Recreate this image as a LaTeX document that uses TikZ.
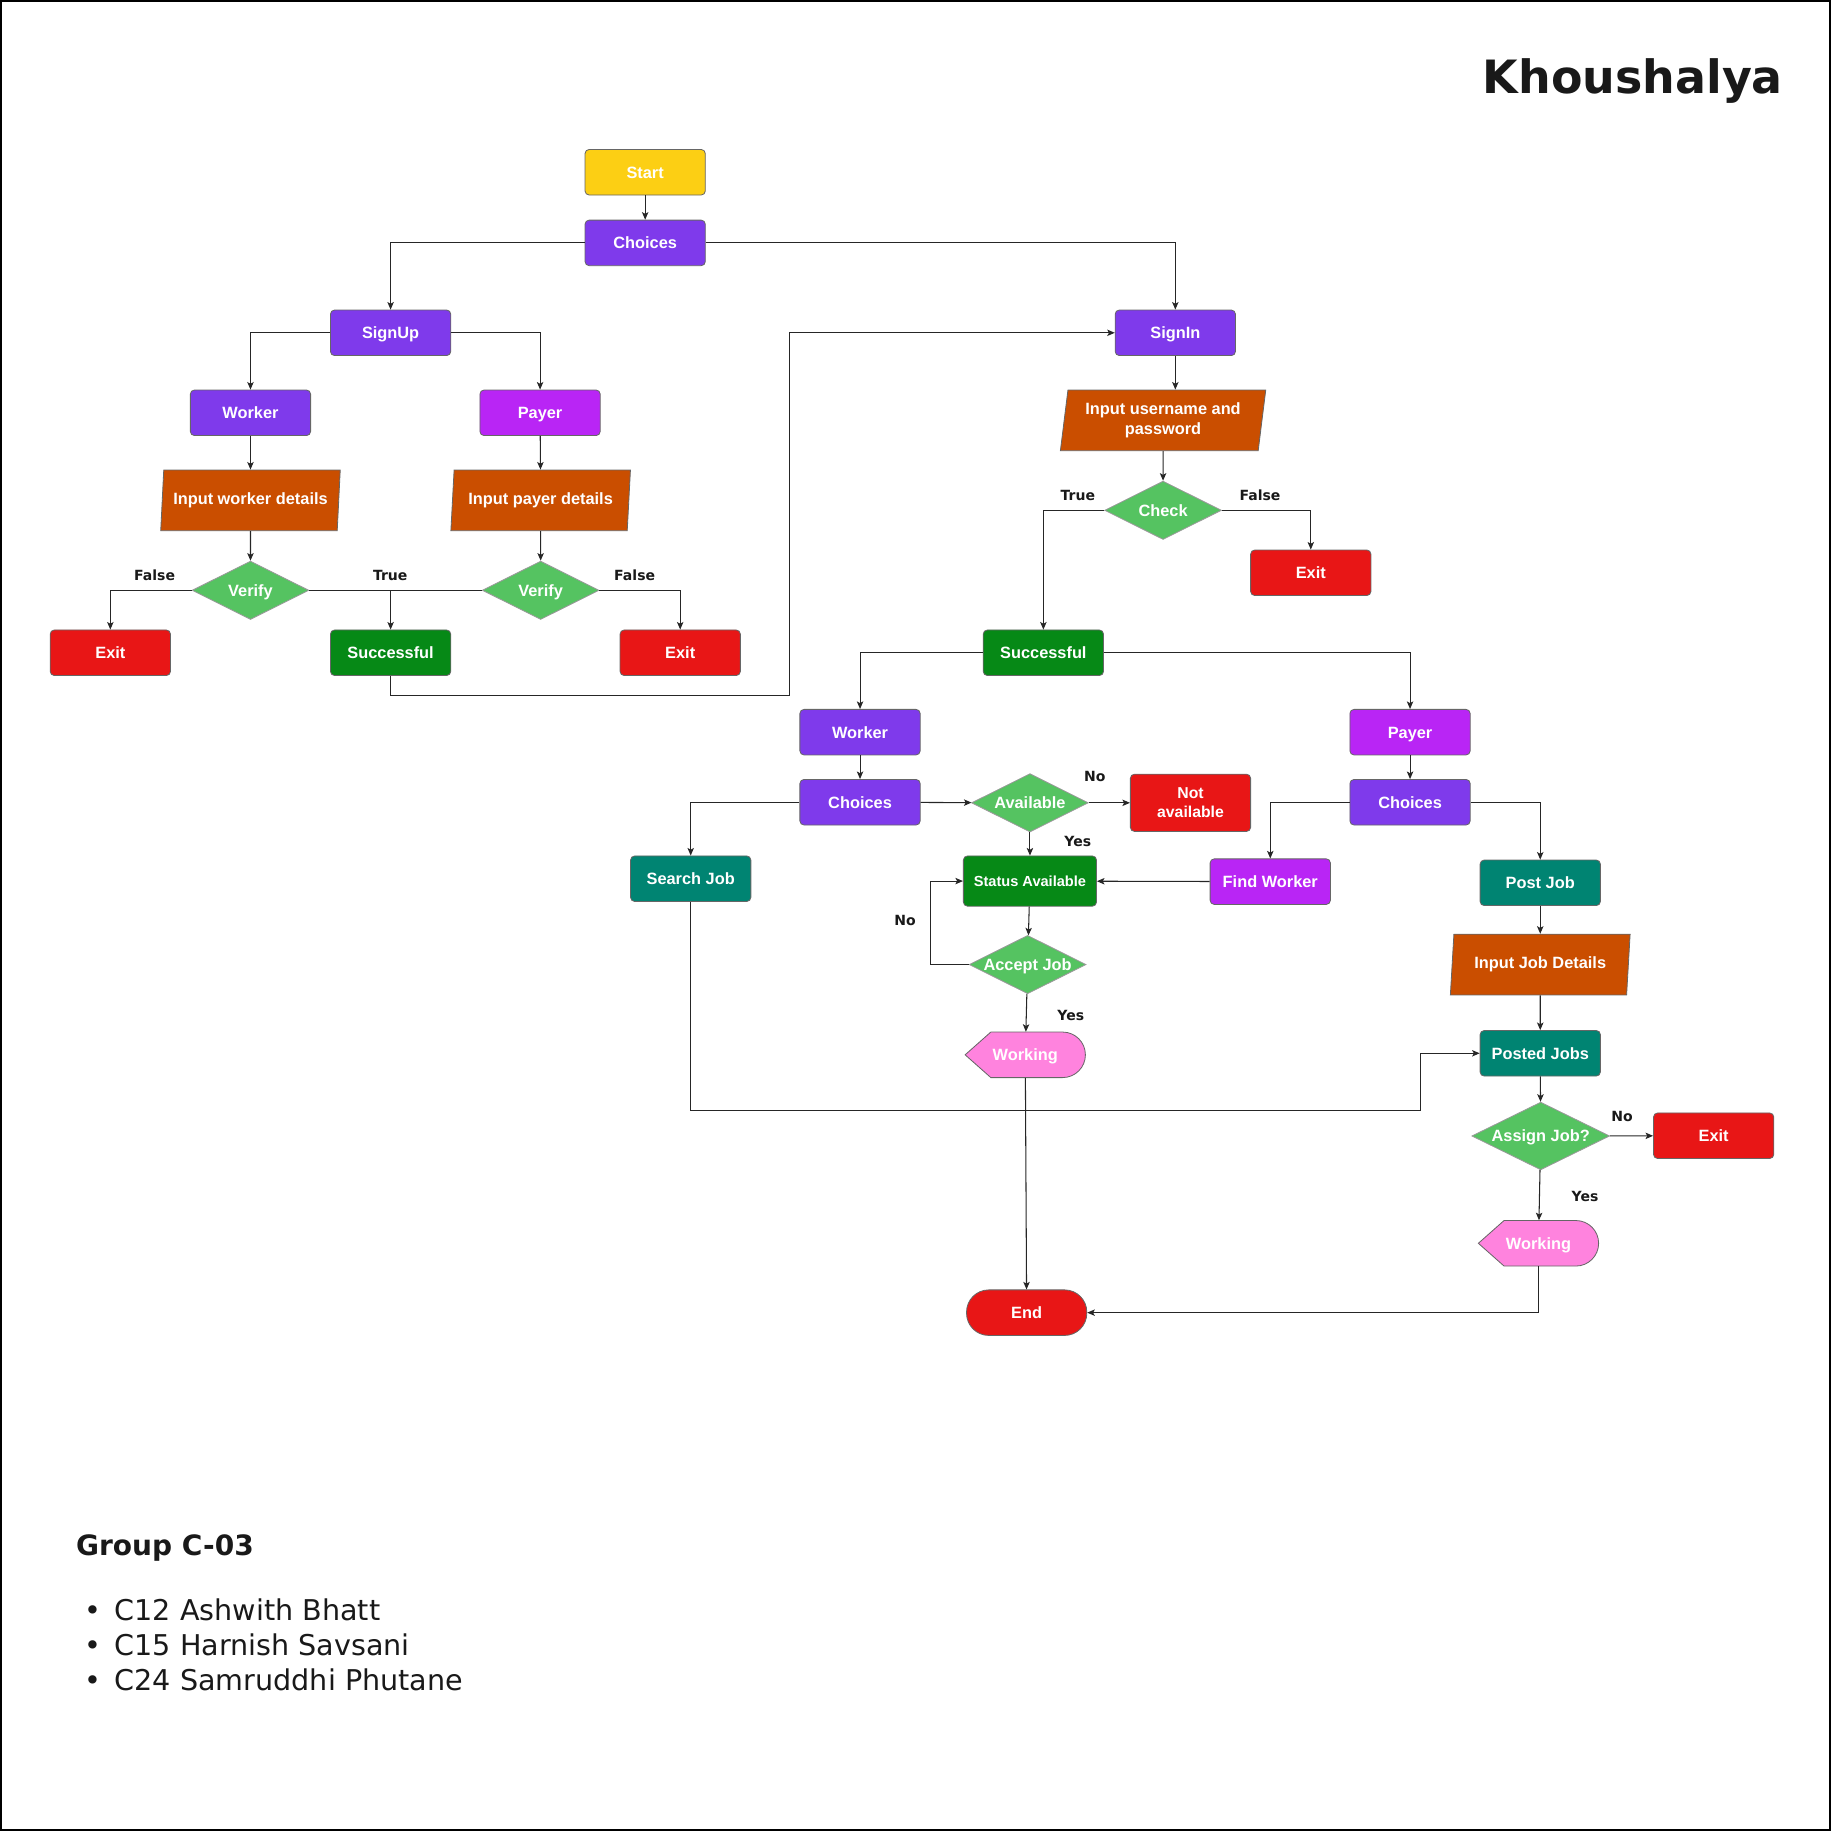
\documentclass[tikz,border=0pt]{standalone}
\usepackage{fontspec}
\setmainfont{Liberation Sans}
\newfontfamily\dejavu{DejaVu Sans}
\usetikzlibrary{shapes.geometric,arrows.meta,calc}

\definecolor{startyellow}{RGB}{252,207,20}
\definecolor{choiceviolet}{RGB}{127,58,235}
\definecolor{payerpurple}{RGB}{185,37,245}
\definecolor{inputorange}{RGB}{202,78,0}
\definecolor{checkgreen}{RGB}{85,195,97}
\definecolor{exitred}{RGB}{232,22,22}
\definecolor{okgreen}{RGB}{6,137,22}
\definecolor{jobteal}{RGB}{0,132,114}
\definecolor{workpink}{RGB}{255,131,222}

\newcommand\flowfont{\bfseries\fontsize{14}{17}\selectfont}
\newcommand\edgefont{\dejavu\bfseries\fontsize{12}{14}\selectfont}

\tikzset{
  box/.style={draw=black!60, line width=0.7pt, rounded corners=3.5pt,
    minimum width=103pt, minimum height=39pt, inner sep=0pt,
    text height=10pt, text depth=0pt, text=white, font=\flowfont},
  io/.style={trapezium, trapezium left angle=80, trapezium right angle=100,
    trapezium stretches=true, draw=black!60, line width=0.7pt,
    fill=inputorange, minimum width=154pt, minimum height=52pt,
    inner sep=0pt, text=white, font=\flowfont, align=center},
  decision/.style={diamond, aspect=2, draw=black!40, line width=0.7pt,
    fill=checkgreen, minimum width=100pt, minimum height=50pt,
    inner sep=0pt, text height=10pt, text depth=0pt,
    text=white, font=\flowfont},
  terminal/.style={box, rounded corners=19pt, fill=exitred},
  plain/.style={minimum width=103pt, minimum height=39pt, inner sep=0pt,
    text height=10pt, text depth=0pt, text=white, font=\flowfont},
  workfill/.style={fill=workpink, draw=black!60, line width=0.7pt},
  lbl/.style={font=\edgefont, text=black!90},
  note/.style={inner sep=0pt, text=black!90},
  link/.style={-{Stealth[length=6.5pt,width=5.5pt,inset=1.5pt]},
    draw=black!85, line width=0.9pt},
}

\begin{document}
\begin{tikzpicture}[x=1pt,y=-1pt]
  \useasboundingbox (0,0) rectangle (1568,1568);
  \draw[line width=1.5pt] (0.75,0.75) rectangle (1567.25,1567.25);

  \node[note, anchor=base east, font=\dejavu\bfseries\fontsize{39.3}{44}\selectfont]
    (title) at (1527,80) {Khoushalya};

  % sign up side
  \node[box, fill=startyellow] (start) at (552.5,147.5) {Start};
  \node[box, fill=choiceviolet] (choice) at (552.5,208) {Choices};
  \node[box, fill=choiceviolet] (signup) at (334.5,285) {SignUp};
  \node[box, fill=choiceviolet] (signin) at (1006.5,285) {SignIn};
  \node[box, fill=choiceviolet] (worker) at (214.5,353.5) {Worker};
  \node[box, fill=payerpurple] (payer) at (462.5,353.5) {Payer};
  \node[io] (inworker) at (214.5,428.5) {Input worker details};
  \node[io] (inpayer) at (463,428.5) {Input payer details};
  \node[decision] (verifyw) at (214.5,505.5) {Verify};
  \node[decision] (verifyp) at (463,505.5) {Verify};
  \node[box, fill=exitred] (exitw) at (94.5,559) {Exit};
  \node[box, fill=okgreen] (succ) at (334.5,559) {Successful};
  \node[box, fill=exitred] (exitp) at (582.5,559) {Exit};

  % sign in side
  \node[io, minimum width=176pt] (inlogin) at (996,360)
    {Input username and\\password};
  \node[decision] (check) at (996,437) {Check};
  \node[box, fill=exitred] (exitl) at (1122.5,490.5) {Exit};
  \node[box, fill=okgreen] (succl) at (893.5,559) {Successful};
  \node[box, fill=choiceviolet] (wrk) at (736.5,627) {Worker};
  \node[box, fill=payerpurple] (pyr) at (1207.5,627) {Payer};
  \node[box, fill=choiceviolet] (wchoice) at (736.5,687) {Choices};
  \node[box, fill=choiceviolet] (pchoice) at (1207.5,687) {Choices};
  \node[decision] (avail) at (882,687.5) {Available};
  \node[box, fill=exitred, minimum height=49pt, text height=, text depth=,
    align=center, font=\flowfont\fontsize{13.5}{16}\selectfont]
    (notavail) at (1019.5,687.5) {Not\\available};
  \node[box, fill=okgreen, minimum width=114pt, minimum height=43pt,
    text height=9pt, font=\flowfont\fontsize{12.5}{14}\selectfont]
    (status) at (882,754.5) {Status Available};
  \node[box, fill=payerpurple] (findw) at (1087.8,755) {Find Worker};
  \node[box, fill=jobteal] (search) at (591.5,752.5) {Search Job};
  \node[decision] (accept) at (880,826) {Accept Job};
  \coordinate (w1) at (878,903.3);
  \filldraw[workfill] ($(w1)+(-51.5,0)$) -- ($(w1)+(-29.5,-19.5)$)
    -- ($(w1)+(32,-19.5)$) arc[start angle=90,end angle=-90,radius=19.5pt]
    -- ($(w1)+(-29.5,19.5)$) -- cycle;
  \node[plain] (work1) at (w1) {Working};
  \node[terminal] (endn) at (879.2,1124.1) {End};

  % payer jobs
  \node[box, fill=jobteal] (post) at (1319,756) {Post Job};
  \node[io] (injob) at (1319,826) {Input Job Details};
  \node[box, fill=jobteal] (posted) at (1319,902) {Posted Jobs};
  \node[decision, minimum width=118pt, minimum height=58pt] (assign)
    at (1319.4,972.8) {Assign Job?};
  \node[box, fill=exitred] (exitj) at (1467.5,972.6) {Exit};
  \coordinate (w2) at (1317.5,1064.7);
  \filldraw[workfill] ($(w2)+(-51.5,0)$) -- ($(w2)+(-29.5,-19.5)$)
    -- ($(w2)+(32,-19.5)$) arc[start angle=90,end angle=-90,radius=19.5pt]
    -- ($(w2)+(-29.5,19.5)$) -- cycle;
  \node[plain] (work2) at (w2) {Working};

  % labels
  \node[lbl] (lfalsew) at (132.4,493) {False};
  \node[lbl] (ltrue) at (334.2,493) {True};
  \node[lbl] (lfalsep) at (543.5,493) {False};
  \node[lbl] (ltruel) at (923,424) {True};
  \node[lbl] (lfalsel) at (1079,424) {False};
  \node[lbl] (lnoa) at (937.5,664.6) {No};
  \node[lbl] (lyesa) at (923,720.2) {Yes};
  \node[lbl] (lnoj) at (775,788) {No};
  \node[lbl] (lyesj) at (917,870) {Yes};
  \node[lbl] (lnos) at (1389,956) {No};
  \node[lbl] (lyess) at (1357.4,1024.8) {Yes};

  % connectors
  \draw[link] (start) -- (choice);
  \draw[link] (choice.west) -| (signup);
  \draw[link] (choice.east) -| (signin);
  \draw[link] (signup.west) -| (worker);
  \draw[link] (signup.east) -| (payer);
  \draw[link] (worker) -- (inworker);
  \draw[link] (inworker) -- (verifyw);
  \draw[link] (payer) -- (inpayer);
  \draw[link] (inpayer) -- (verifyp);
  \draw[link] (verifyw.west) -| (exitw);
  \draw[link] (verifyw.east) -| (succ);
  \draw[link, -] (verifyp.west) -- (verifyp.west -| succ);
  \draw[link] (verifyp.east) -| (exitp);
  \coordinate (bend) at (676.3,595.5);
  \draw[link] (succ.south) |- (bend) |- (signin.west);

  \draw[link] (signin.south) -- (signin.south |- inlogin.north);
  \draw[link] (inlogin) -- (check);
  \draw[link] (check.west) -| (succl);
  \draw[link] (check.east) -| (exitl);
  \draw[link] (succl.west) -| (wrk);
  \draw[link] (succl.east) -| (pyr);
  \draw[link] (wrk) -- (wchoice);
  \draw[link] (wchoice) -- (avail);
  \draw[link] (wchoice.west) -| (search);
  \draw[link] (avail) -- (notavail);
  \draw[link] (avail) -- (status);
  \draw[link] (status) -- (accept);
  \coordinate (loop) at (796.8,826);
  \draw[link] (accept.west) -- (loop) |- (status.west);
  \draw[link] (accept) -- (work1);
  \draw[link] (work1) -- (endn);
  \coordinate (jog) at (1216.6,951);
  \draw[link] (search.south) |- (jog) |- (posted.west);

  \draw[link] (pyr) -- (pchoice);
  \draw[link] (pchoice.west) -| (findw);
  \draw[link] (pchoice.east) -| (post);
  \draw[link] (findw) -- (status);
  \draw[link] (post) -- (injob);
  \draw[link] (injob) -- (posted);
  \draw[link] (posted) -- (assign);
  \draw[link] (assign) -- (exitj);
  \draw[link] (assign) -- (work2);
  \draw[link] (work2.south) |- (endn.east);

  % group
  \node[note, anchor=base west, font=\dejavu\bfseries\fontsize{24}{28}\selectfont]
    (group) at (65,1332) {Group C-03};
  \foreach \name [count=\i] in {C12 Ashwith Bhatt, C15 Harnish Savsani,
      C24 Samruddhi Phutane} {
    \node[note, anchor=base west, font=\dejavu\fontsize{24.5}{28}\selectfont]
      (member\i) at (98,1358+30*\i) {\name};
    \node[note, anchor=base, font=\dejavu\fontsize{24.5}{28}\selectfont]
      (dot\i) at (80,1358+30*\i) {\textbullet};
  }
\end{tikzpicture}
\end{document}
